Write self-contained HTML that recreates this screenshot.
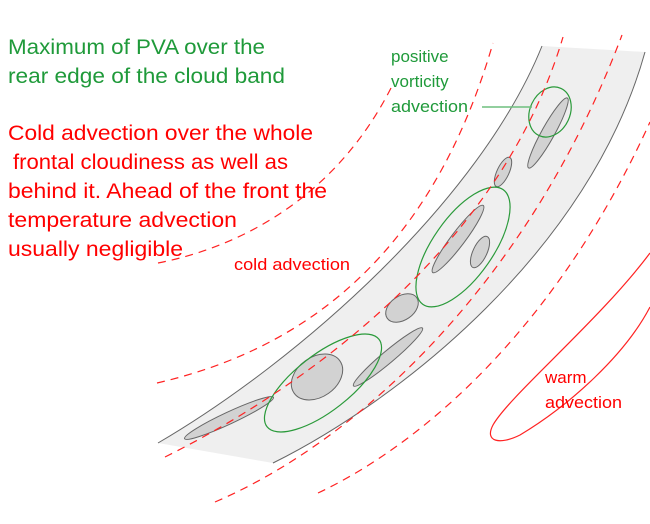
<!DOCTYPE html>
<html><head><meta charset="utf-8"><style>
html,body{margin:0;padding:0;background:#fff;}
svg{display:block;}
</style></head><body>
<svg width="650" height="524" viewBox="0 0 650 524" xmlns="http://www.w3.org/2000/svg">
<!-- cloud band -->
<path d="M158,443 C300,360 480,200 542,46 L645,52 C590,250 400,400 273,463 Z" fill="#efefef" stroke="none"/>
<path d="M158,443 C300,360 480,200 542,46" fill="none" stroke="#666" stroke-width="1"/>
<path d="M273,463 C400,400 590,250 645,52" fill="none" stroke="#666" stroke-width="1"/>
<!-- gray cloud ellipses -->
<g fill="#d2d2d2" stroke="#666" stroke-width="1">
<ellipse cx="548" cy="133" rx="40" ry="6.5" transform="rotate(-61 548 133)"/>
<ellipse cx="503" cy="172" rx="16" ry="6" transform="rotate(-65 503 172)"/>
<ellipse cx="458" cy="239" rx="42" ry="7" transform="rotate(-53 458 239)"/>
<ellipse cx="480" cy="252" rx="17" ry="7" transform="rotate(-65 480 252)"/>
<ellipse cx="402" cy="308" rx="18" ry="12" transform="rotate(-35 402 308)"/>
<ellipse cx="388" cy="357" rx="45" ry="6" transform="rotate(-40 388 357)"/>
<ellipse cx="317" cy="377" rx="28" ry="20" transform="rotate(-35 317 377)"/>
<ellipse cx="229" cy="418" rx="49" ry="6" transform="rotate(-25 229 418)"/>
</g>
<!-- green PVA ellipses -->
<g fill="none" stroke="#2a9a3a" stroke-width="1.2">
<ellipse cx="550" cy="112" rx="20" ry="26" transform="rotate(25 550 112)"/>
<ellipse cx="463" cy="247" rx="70" ry="30" transform="rotate(-55 463 247)"/>
<ellipse cx="323" cy="383" rx="71" ry="28" transform="rotate(-38 323 383)"/>
</g>
<line x1="482" y1="107" x2="532" y2="107" stroke="#6fbf7f" stroke-width="1.5"/>
<!-- red dashed -->
<g fill="none" stroke="#f22" stroke-width="1.2" stroke-dasharray="8,6">
<path d="M158,263 C250,245 340,190 392,86"/>
<path d="M157,383 C300,350 430,260 493,43"/>
<path d="M165,457 C300,390 500,250 563,37"/>
<path d="M215,502 C360,440 530,280 622,35"/>
<path d="M318,493 C430,440 560,320 650,122"/>
</g>
<path d="M650,253 C600,320 510,395 493,425 C484,442 500,445 520,435 C570,405 625,355 650,307" fill="none" stroke="#f22" stroke-width="1.2"/>
<!-- texts -->
<g font-family="Liberation Sans, sans-serif" font-size="21" fill="#1f9a3a">
<text x="8" y="54" textLength="257" lengthAdjust="spacingAndGlyphs">Maximum of PVA over the</text>
<text x="8" y="83" textLength="277" lengthAdjust="spacingAndGlyphs">rear edge of the cloud band</text>
</g>
<g font-family="Liberation Sans, sans-serif" font-size="21" fill="#f00">
<text x="8" y="140" textLength="305" lengthAdjust="spacingAndGlyphs">Cold advection over the whole</text>
<text x="13" y="169" textLength="275" lengthAdjust="spacingAndGlyphs">frontal cloudiness as well as</text>
<text x="8" y="198" textLength="319" lengthAdjust="spacingAndGlyphs">behind it. Ahead of the front the</text>
<text x="8" y="227" textLength="229" lengthAdjust="spacingAndGlyphs">temperature advection</text>
<text x="8" y="256" textLength="175" lengthAdjust="spacingAndGlyphs">usually negligible</text>
</g>
<g font-family="Liberation Sans, sans-serif" font-size="17" fill="#1f9a3a">
<text x="391" y="62">positive</text>
<text x="391" y="87">vorticity</text>
<text x="391" y="112" textLength="77" lengthAdjust="spacingAndGlyphs">advection</text>
</g>
<g font-family="Liberation Sans, sans-serif" font-size="17" fill="#f00">
<text x="234" y="270" textLength="116" lengthAdjust="spacingAndGlyphs">cold advection</text>
<text x="545" y="383">warm</text>
<text x="545" y="408" textLength="77" lengthAdjust="spacingAndGlyphs">advection</text>
</g>
</svg>
</body></html>
